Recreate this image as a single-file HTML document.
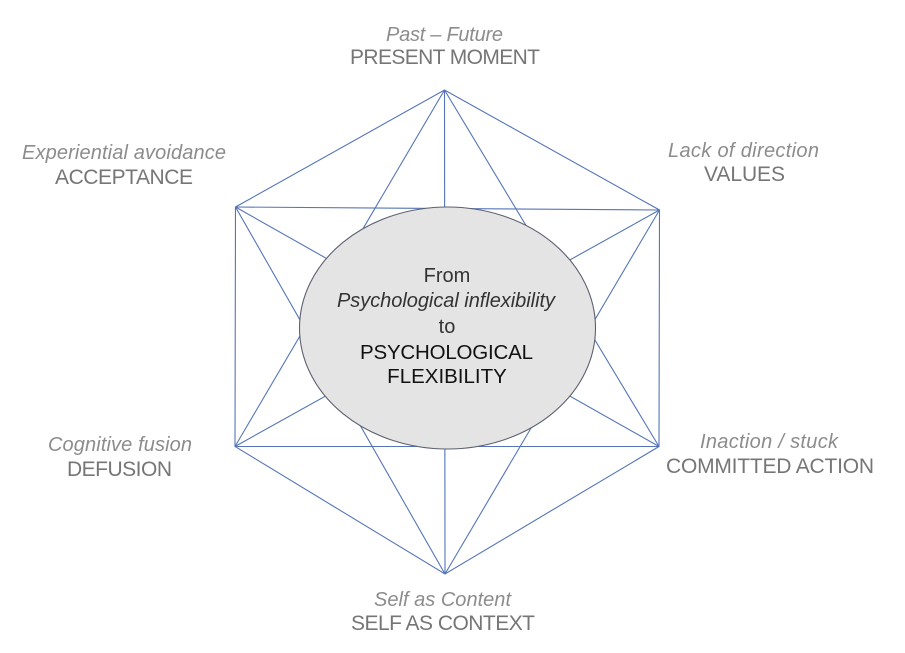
<!DOCTYPE html>
<html>
<head>
<meta charset="utf-8">
<style>
  html, body { margin:0; padding:0; background:#fff; }
  body { width:905px; height:653px; overflow:hidden; }
  svg { display:block; }
  .it { font-family:"Liberation Sans", Arial, sans-serif; font-style:italic; font-size:20px; fill:#8c8c8c; }
  .cap { font-family:"Liberation Sans", Arial, sans-serif; font-size:21px; fill:#767676; }
  .c1 { font-family:"Liberation Sans", Arial, sans-serif; font-size:20px; fill:#333; }
  .c2 { font-family:"Liberation Sans", Arial, sans-serif; font-size:20.5px; fill:#111; }
</style>
</head>
<body>
<svg width="905" height="653" viewBox="0 0 905 653" xmlns="http://www.w3.org/2000/svg">
  <g stroke="#5575b8" stroke-width="1.1" fill="none">
    <polygon points="444.5,90 659.5,210 659,446.5 445,574 235,446.5 235.5,207"/>
    <line x1="444.5" y1="90" x2="659" y2="446.5"/>
    <line x1="444.5" y1="90" x2="445" y2="574"/>
    <line x1="444.5" y1="90" x2="235" y2="446.5"/>
    <line x1="659.5" y1="210" x2="445" y2="574"/>
    <line x1="659.5" y1="210" x2="235" y2="446.5"/>
    <line x1="659.5" y1="210" x2="235.5" y2="207"/>
    <line x1="659" y1="446.5" x2="235" y2="446.5"/>
    <line x1="659" y1="446.5" x2="235.5" y2="207"/>
    <line x1="445" y1="574" x2="235.5" y2="207"/>
  </g>
  <ellipse cx="447.5" cy="328" rx="148" ry="121" fill="#e4e4e4" stroke="#5d6170" stroke-width="1.1"/>

  <text class="c1" x="447" y="282" text-anchor="middle">From</text>
  <text class="c1" x="446" y="307" text-anchor="middle" font-style="italic" textLength="218">Psychological inflexibility</text>
  <text class="c1" x="447" y="333" text-anchor="middle">to</text>
  <text class="c2" x="446.5" y="359" text-anchor="middle" textLength="173">PSYCHOLOGICAL</text>
  <text class="c2" x="447" y="383" text-anchor="middle">FLEXIBILITY</text>

  <text class="it" x="444.5" y="41" text-anchor="middle" textLength="117">Past – Future</text>
  <text class="cap" x="445" y="64" text-anchor="middle" textLength="190">PRESENT MOMENT</text>

  <text class="it" x="124" y="159" text-anchor="middle" textLength="204">Experiential avoidance</text>
  <text class="cap" x="124" y="184" text-anchor="middle" textLength="138">ACCEPTANCE</text>

  <text class="it" x="743.5" y="157" text-anchor="middle" textLength="151">Lack of direction</text>
  <text class="cap" x="744.5" y="181" text-anchor="middle" textLength="81">VALUES</text>

  <text class="it" x="120" y="451" text-anchor="middle" textLength="144">Cognitive fusion</text>
  <text class="cap" x="119.5" y="476" text-anchor="middle" textLength="105">DEFUSION</text>

  <text class="it" x="769" y="448" text-anchor="middle" textLength="138">Inaction / stuck</text>
  <text class="cap" x="770" y="473" text-anchor="middle" textLength="208">COMMITTED ACTION</text>

  <text class="it" x="442.5" y="606" text-anchor="middle" textLength="137">Self as Content</text>
  <text class="cap" x="443" y="630" text-anchor="middle" textLength="184">SELF AS CONTEXT</text>
</svg>
</body>
</html>
